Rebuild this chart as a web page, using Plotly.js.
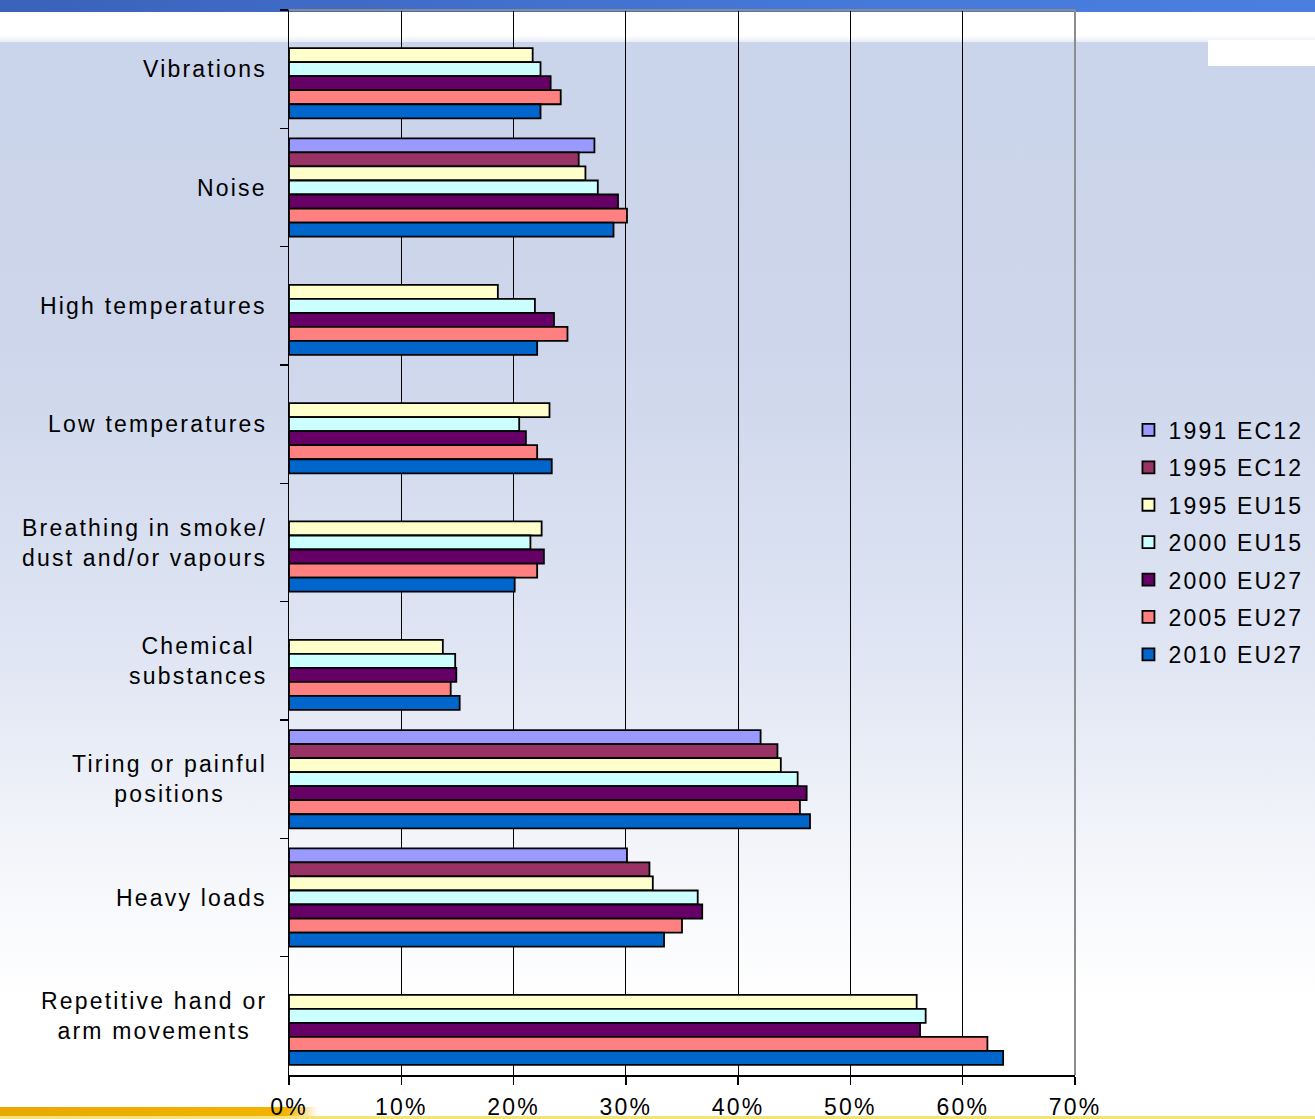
<!DOCTYPE html>
<html>
<head>
<meta charset="utf-8">
<script src="https://cdn.plot.ly/plotly-3.0.1.min.js"></script>
<style>
  html, body { margin: 0; padding: 0; width: 1315px; height: 1119px; overflow: hidden; }
  body {
    position: relative;
    background: linear-gradient(to bottom, #cad4ea 0px, #cdd6eb 350px, #dfe5f3 650px, #f3f5fa 850px, #ffffff 1000px, #ffffff 1119px);
  }
  .bg { position: absolute; }
  #topblue { left: 0; top: 0; width: 1315px; height: 12px; background: linear-gradient(to right, #3b62b9, #4577d8 60%, #4a7fe0); }
  #topwhite { left: 0; top: 12px; width: 1315px; height: 30px; background: linear-gradient(to bottom, #ffffff 80%, #e8ecf6); }
  #topright { left: 1208px; top: 40px; width: 107px; height: 26px; background: #ffffff; }
  #botorange { left: 0; top: 1107px; width: 318px; height: 12px; background: linear-gradient(to right, #e9a800, #f2b400 90%, rgba(242,180,0,0)); }
  #botyellow { left: 0; top: 1116px; width: 1315px; height: 3px; background: #f5e27a; }
  #chart { position: absolute; left: 0; top: 0; width: 1315px; height: 1119px; }
  #chart text { letter-spacing: 2.2px; }
  #js-plotly-tester text { letter-spacing: 2.2px; }
</style>
</head>
<body>
<div class="bg" id="topblue"></div>
<div class="bg" id="topwhite"></div>
<div class="bg" id="topright"></div>
<div class="bg" id="botorange"></div>
<div class="bg" id="botyellow"></div>
<div id="chart"></div>
<script>
const categories = [
  "Vibrations",
  "Noise",
  "High temperatures",
  "Low temperatures",
  "Breathing in smoke/<br>dust and/or vapours",
  "Chemical<br>substances",
  "Tiring or painful<br>positions",
  "Heavy loads",
  "Repetitive hand or<br>arm movements"
];

const seriesNames = ["1991 EC12", "1995 EC12", "1995 EU15", "2000 EU15", "2000 EU27", "2005 EU27", "2010 EU27"];
const seriesColors = ["#9999FF", "#993366", "#FFFFCC", "#CCFFFF", "#660066", "#FF8080", "#0066CC"];

const v1991EC12 = [null, 27.2, null, null, null, null, 42.0, 30.1, null];
const v1995EC12 = [null, 25.8, null, null, null, null, 43.5, 32.1, null];
const v1995EU15 = [21.7, 26.4, 18.6, 23.2, 22.5, 13.7, 43.8, 32.4, 55.9];
const v2000EU15 = [22.4, 27.5, 21.9, 20.5, 21.5, 14.8, 45.3, 36.4, 56.7];
const v2000EU27 = [23.3, 29.3, 23.6, 21.1, 22.7, 14.9, 46.1, 36.8, 56.2];
const v2005EU27 = [24.2, 30.1, 24.8, 22.1, 22.1, 14.4, 45.5, 35.0, 62.2];
const v2010EU27 = [22.4, 28.9, 22.1, 23.4, 20.1, 15.2, 46.4, 33.4, 63.6];

const seriesValues = [v1991EC12, v1995EC12, v1995EU15, v2000EU15, v2000EU27, v2005EU27, v2010EU27];

const xTickVals = [0, 10, 20, 30, 40, 50, 60, 70];
const xTickText = ["0%", "10%", "20%", "30%", "40%", "50%", "60%", "70%"];

const fontFamily = '"Liberation Sans", Arial, sans-serif';
const fontSize = 23;

const traces = seriesNames.map((name, i) => ({
  type: "bar",
  orientation: "h",
  name: name,
  legendgroup: "g" + i,
  y: categories,
  x: seriesValues[i],
  marker: { color: seriesColors[i], line: { color: "#000000", width: 1.8 } },
  hoverinfo: "x+name"
}));

const annotations = categories.map(c => ({
  xref: "paper", yref: "y",
  x: 0, y: c,
  xanchor: "right", yanchor: "middle",
  xshift: -20,
  text: c,
  align: "center",
  showarrow: false,
  font: { family: fontFamily, size: fontSize, color: "#000000" }
}));

const layout = {
  width: 1315,
  height: 1119,
  margin: { l: 289, r: 240, t: 10, b: 44, autoexpand: false },
  paper_bgcolor: "rgba(0,0,0,0)",
  plot_bgcolor: "rgba(0,0,0,0)",
  barmode: "group",
  bargap: 0.17,
  bargroupgap: 0,
  font: { family: fontFamily, size: fontSize, color: "#000000" },
  xaxis: {
    range: [0, 70],
    tickvals: xTickVals,
    ticktext: xTickText,
    showgrid: true,
    gridcolor: "#000000",
    gridwidth: 1,
    showline: true,
    linecolor: "#000000",
    linewidth: 1.5,
    ticks: "outside",
    ticklen: 8,
    tickcolor: "#000000",
    tickwidth: 1.5,
    ticklabelstandoff: 3,
    zeroline: false,
    automargin: false,
    tickfont: { family: fontFamily, size: fontSize, color: "#000000" },
    fixedrange: true
  },
  yaxis: {
    type: "category",
    autorange: "reversed",
    showticklabels: false,
    showgrid: false,
    showline: true,
    linecolor: "#000000",
    linewidth: 1.5,
    ticks: "outside",
    tickson: "boundaries",
    ticklen: 8,
    tickcolor: "#000000",
    tickwidth: 1.5,
    zeroline: false,
    automargin: false,
    fixedrange: true
  },
  showlegend: true,
  legend: {
    x: 1.068, xanchor: "left",
    y: 0.5, yanchor: "middle",
    bgcolor: "rgba(0,0,0,0)",
    borderwidth: 0,
    tracegroupgap: 4.5,
    traceorder: "grouped",
    font: { family: fontFamily, size: fontSize, color: "#000000" }
  },
  annotations: annotations,
  shapes: [
    { type: "line", xref: "paper", yref: "paper", x0: 0, x1: 1, y0: 1, y1: 1, line: { color: "#8c8c8c", width: 2 }, layer: "above" },
    { type: "line", xref: "paper", yref: "paper", x0: 1, x1: 1, y0: 0, y1: 1, line: { color: "#8c8c8c", width: 2 }, layer: "above" }
  ]
};

Plotly.newPlot("chart", traces, layout, { displayModeBar: false, staticPlot: true });
</script>
</body>
</html>
